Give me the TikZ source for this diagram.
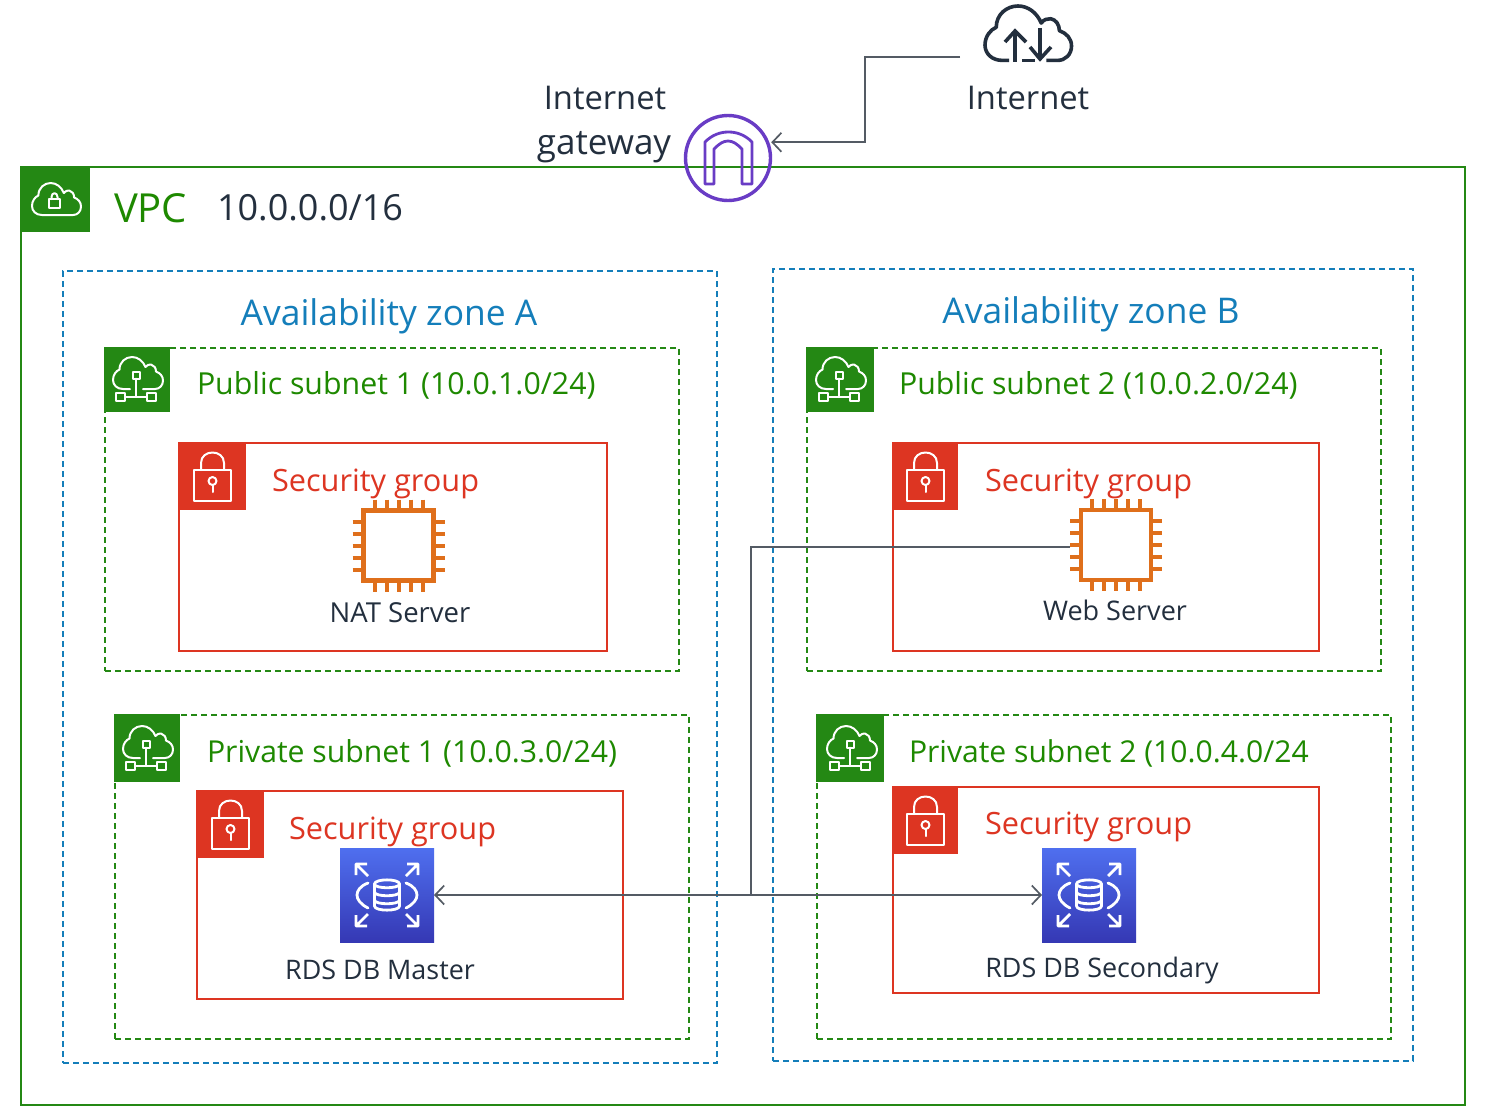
\documentclass[tikz,border=0pt]{standalone}
\usepackage{fontspec}
\setmainfont{Open Sans}
\usetikzlibrary{arrows.meta}
\definecolor{awsgreen}{HTML}{248814}
\definecolor{awstext}{HTML}{1E8900}
\definecolor{awsblue}{HTML}{147EBA}
\definecolor{awsred}{HTML}{DD3522}
\definecolor{awsorange}{HTML}{DF6F1B}
\definecolor{awspurple}{HTML}{693CC5}
\definecolor{awsink}{HTML}{232F3E}
\definecolor{awsline}{HTML}{545B64}
\definecolor{awsrdshi}{HTML}{4F6FEF}
\definecolor{awsrdslo}{HTML}{3538B4}
\newcommand\boxn[6]{%
  \pgfmathsetmacro\bxw{#4-#2}\pgfmathsetmacro\bxh{#5-#3}%
  \pgfmathsetmacro\bxx{(#2+#4)/2}\pgfmathsetmacro\bxy{(#3+#5)/2}%
  \node[#6,minimum width=\bxw pt,minimum height=\bxh pt] (#1) at (\bxx,\bxy) {};}
\newcommand\cloudopen{(20,64) .. controls (8,64) and (0,56) .. (0,46) .. controls (0,36) and (6,28) .. (13,25) .. controls (13,10) and (25,0) .. (38,0) .. controls (50,0) and (60,8) .. (65,20) .. controls (68,16) and (72,14.5) .. (76,15) .. controls (82,16) and (86,22) .. (86,29) .. controls (94,32) and (100,38) .. (100,47) .. controls (100,57) and (93,64) .. (84,64)}
\newcommand\fsz[1]{\fontsize{#1}{#1}\selectfont}
\tikzset{
  x=1pt,y=-1pt,
  shapebox/.style={rectangle,inner sep=0pt,outer sep=0pt},
  vpcbox/.style={shapebox,draw=awsgreen,line width=2pt},
  azbox/.style={shapebox,draw=awsblue,line width=1.6pt,dash pattern=on 6pt off 4pt},
  subnetbox/.style={shapebox,draw=awsgreen,line width=1.6pt,dash pattern=on 6pt off 4pt},
  sgbox/.style={shapebox,draw=awsred,line width=2pt},
  greentile/.style={shapebox,fill=awsgreen},
  redtile/.style={shapebox,fill=awsred},
  iconline/.style={draw=white,line width=2pt,line cap=round,line join=round},
  txt/.style={inner sep=0pt,outer sep=0pt,anchor=base west},
  txtc/.style={inner sep=0pt,outer sep=0pt,anchor=base},
  conn/.style={draw=awsline,line width=1.7pt},
  pics/chipicon/.style={code={
    \draw[awsorange,line width=4.4pt] (-35,-35) rectangle (35,35);
    \foreach \o in {-24,-12,0,12,24}{
      \draw[awsorange,line width=4pt] (\o,-46) -- (\o,-36) (\o,36) -- (\o,46) (-46,\o) -- (-36,\o) (36,\o) -- (46,\o);}
  }},
  pics/rdsicon/.style={code={
    \begin{scope}[y=1pt]
      \shade[shading=axis,shading angle=-45,top color=awsrdshi,bottom color=awsrdslo] (-47,-47) rectangle (47,47);
    \end{scope}
    \draw[iconline,line width=2.8pt] (-12.5,-11) .. controls (-12.5,-16.5) and (12.5,-16.5) .. (12.5,-11) -- (12.5,11) .. controls (12.5,16.5) and (-12.5,16.5) .. (-12.5,11) -- cycle;
    \draw[iconline,line width=2.8pt] (-12.5,-11) .. controls (-12.5,-6) and (12.5,-6) .. (12.5,-11);
    \draw[iconline,line width=2.8pt] (-12.5,-3) .. controls (-12.5,2) and (12.5,2) .. (12.5,-3);
    \draw[iconline,line width=2.8pt] (-12.5,5) .. controls (-12.5,10) and (12.5,10) .. (12.5,5);
    \draw[iconline,line width=2.8pt] (-19,-12) .. controls (-27,-9) and (-30,-4) .. (-30,0) .. controls (-30,4) and (-27,9) .. (-19,13);
    \draw[iconline,line width=2.8pt] (19,-12) .. controls (27,-9) and (30,-4) .. (30,0) .. controls (30,4) and (27,9) .. (19,13);
    \foreach \sx/\sy in {-1/-1,1/-1,-1/1,1/1}{
      \draw[iconline,line width=2.8pt,line cap=butt] (\sx*31,\sy*20) -- (\sx*31,\sy*31) -- (\sx*20,\sy*31) (\sx*31,\sy*31) -- (\sx*19,\sy*19);}
  }},
  pics/subneticon/.style={code={
    \begin{scope}[shift={(9,10)},x=0.5pt,y=-0.5pt]
      \draw[iconline] (34,64) -- (20,64) .. controls (8,64) and (0,56) .. (0,46) .. controls (0,36) and (6,28) .. (13,25) .. controls (13,10) and (25,0) .. (38,0) .. controls (50,0) and (60,8) .. (65,20) .. controls (68,16) and (72,14.5) .. (76,15) .. controls (82,16) and (86,22) .. (86,29) .. controls (94,32) and (100,38) .. (100,47) .. controls (100,57) and (93,64) .. (84,64) -- (60,64);
    \end{scope}
    \draw[iconline] (28.5,24.5) rectangle (35.5,31.5);
    \draw[iconline] (32,31.5) -- (32,50);
    \draw[iconline] (22,50) -- (42,50);
    \draw[iconline] (12,46) rectangle (21,54);
    \draw[iconline] (43,46) rectangle (52,54);
  }},
  pics/lockicon/.style={code={
    \draw[iconline] (16,28) rectangle (53,59);
    \draw[iconline] (23,28) -- (23,21) .. controls (23,7) and (46,7) .. (46,21) -- (46,28);
    \draw[iconline] (34.5,39) circle[radius=4];
    \draw[iconline] (34.5,43) -- (34.5,50);
  }},
  pics/vpcicon/.style={code={
    \begin{scope}[shift={(11,15)},x=0.49pt,y=-0.5pt]
      \draw[iconline] \cloudopen -- cycle;
    \end{scope}
    \draw[iconline] (28,31) rectangle (39,40);
    \draw[iconline] (30.5,31) -- (30.5,29) .. controls (30.5,24) and (36.5,24) .. (36.5,29) -- (36.5,31);
  }},
  pics/netcloud/.style={code={
    \begin{scope}[x=0.865pt,y=-0.85pt]
      \draw[awsink,line width=3.6pt,line join=round] (28,64) -- (20,64) .. controls (8,64) and (0,56) .. (0,46) .. controls (0,36) and (6,28) .. (13,25) .. controls (13,10) and (25,0) .. (38,0) .. controls (50,0) and (60,8) .. (65,20) .. controls (68,16) and (72,14.5) .. (76,15) .. controls (82,16) and (86,22) .. (86,29) .. controls (94,32) and (100,38) .. (100,47) .. controls (100,57) and (93,64) .. (84,64) -- (71,64);
    \end{scope}
    \draw[awsink,line width=3.6pt] (37,54.5) -- (50,54.5);
    \draw[awsink,line width=3.6pt] (30,56) -- (30,25);
    \draw[awsink,line width=3.6pt] (20,36) -- (30,25) -- (41,36);
    \draw[awsink,line width=3.6pt] (55,22) -- (55,53);
    \draw[awsink,line width=3.6pt] (45,41) -- (55,53) -- (66,41);
  }},
}
\begin{document}
\begin{tikzpicture}
\fill[white] (0,0) rectangle (1490,1116);
\useasboundingbox (0,0) rectangle (1490,1116);

% containers
\boxn{vpc}{21}{167}{1465}{1105}{vpcbox}
\boxn{vpctile}{21}{168}{90}{232}{greentile}
\boxn{aza}{63}{271}{717}{1063}{azbox}
\boxn{azb}{773}{269}{1413}{1061}{azbox}
\boxn{puba}{105}{348}{679}{671}{subnetbox}
\boxn{pubb}{807}{348}{1381}{671}{subnetbox}
\boxn{priva}{115}{715}{689}{1039}{subnetbox}
\boxn{privb}{817}{715}{1391}{1039}{subnetbox}
\boxn{puba tile}{104}{347}{170}{412}{greentile}
\boxn{pubb tile}{806}{347}{874}{412}{greentile}
\boxn{priva tile}{114}{714}{180}{782}{greentile}
\boxn{privb tile}{816}{714}{884}{782}{greentile}
\boxn{sga}{179}{443}{607}{651}{sgbox}
\boxn{sgb}{893}{443}{1319}{651}{sgbox}
\boxn{sgc}{197}{791}{623}{999}{sgbox}
\boxn{sgd}{893}{787}{1319}{993}{sgbox}
\boxn{sga tile}{178}{442}{246}{510}{redtile}
\boxn{sgb tile}{892}{442}{958}{510}{redtile}
\boxn{sgc tile}{196}{790}{264}{858}{redtile}
\boxn{sgd tile}{892}{786}{958}{854}{redtile}

% tile glyphs
\pic at (21,168) {vpcicon};
\pic at (104,347) {subneticon};
\pic at (807,347) {subneticon};
\pic at (114,716) {subneticon};
\pic at (818,716) {subneticon};
\pic at (178,442) {lockicon};
\pic at (891,442) {lockicon};
\pic at (196,790) {lockicon};
\pic at (891,786) {lockicon};

% service icons
\node[shapebox,minimum size=92pt] (natchip) at (398.5,545.5) {};
\pic at (natchip.center) {chipicon};
\node[shapebox,minimum size=92pt] (webchip) at (1116,547) {};
\pic at (1116,545) {chipicon};
\node[shapebox,minimum size=94pt] (rdsa) at (387,895) {};
\pic at (rdsa.center) {rdsicon};
\node[shapebox,minimum size=94pt] (rdsb) at (1089,895) {};
\pic at (rdsb.center) {rdsicon};

% internet
\node[shapebox,minimum width=136pt,minimum height=114pt] (internet) at (1028,57) {};
\pic at (985,6) {netcloud};
\node[circle,draw=awspurple,line width=3.4pt,inner sep=0pt,outer sep=3.5pt,minimum size=85pt] (igw) at (728,158) {};
\draw[awspurple,line width=2.8pt,line join=round] (705,184) -- (705,142) .. controls (712,135) and (720,132) .. (728.5,132) .. controls (737,132) and (745,135) .. (752,142) -- (752,184) -- (742,184) -- (742,149) .. controls (737,144) and (733,141) .. (728,141) .. controls (723,141) and (719,144) .. (714,149) -- (714,184) -- cycle;

% connectors
\coordinate (elbow) at (865,57);
\coordinate (junction) at (751,895);
\draw[conn,-{Straight Barb[length=9pt,width=19pt,line width=1.7pt]}] (internet.west) -- (elbow) |- (igw.20);
\draw[conn] (webchip.west) -| (junction);
\draw[conn,{Straight Barb[length=9pt,width=19pt,line width=1.7pt]}-{Straight Barb[length=9pt,width=19pt,line width=1.7pt]}] (rdsa.east) -- (rdsb.west);

% labels
\node[txtc,font=\fsz{32.7},text=awsink] (lblinternet) at (1028,109) {Internet};
\node[txtc,font=\fsz{32.7},text=awsink] (lblgw1) at (605,109) {Internet};
\node[txtc,font=\fsz{35},text=awsink] (lblgw2) at (604,154) {gateway};
\node[txt,font=\fsz{40},text=awstext] (lblvpc) at (114,222) {VPC};
\node[txt,font=\fsz{36},text=awsink] (lblcidr) at (217,220) {10.0.0.0/16};
\node[txtc,font=\fsz{35.4},text=awsblue] (lblaza) at (389,325) {Availability zone A};
\node[txtc,font=\fsz{35.4},text=awsblue] (lblazb) at (1091,323) {Availability zone B};
\node[txt,font=\fsz{30.3},text=awstext] (lblpuba) at (197,394) {Public subnet 1 (10.0.1.0/24)};
\node[txt,font=\fsz{30.3},text=awstext] (lblpubb) at (899,394) {Public subnet 2 (10.0.2.0/24)};
\node[txt,font=\fsz{30.2},text=awstext] (lblpriva) at (207,762) {Private subnet 1 (10.0.3.0/24)};
\node[txt,font=\fsz{30.1},text=awstext] (lblprivb) at (909,762) {Private subnet 2 (10.0.4.0/24};
\node[txt,font=\fsz{30.7},text=awsred] (lblsga) at (272,491) {Security group};
\node[txt,font=\fsz{30.7},text=awsred] (lblsgb) at (985,491) {Security group};
\node[txt,font=\fsz{30.7},text=awsred] (lblsgc) at (289,839) {Security group};
\node[txt,font=\fsz{30.7},text=awsred] (lblsgd) at (985,834) {Security group};
\node[txtc,font=\fsz{27.5},text=awsink] (lblnat) at (400,622) {NAT Server};
\node[txtc,font=\fsz{27},text=awsink] (lblweb) at (1115,620) {Web Server};
\node[txtc,font=\fsz{26.9},text=awsink] (lblrdsa) at (380,979) {RDS DB Master};
\node[txtc,font=\fsz{26.9},text=awsink] (lblrdsb) at (1102,977) {RDS DB Secondary};
\end{tikzpicture}
\end{document}
